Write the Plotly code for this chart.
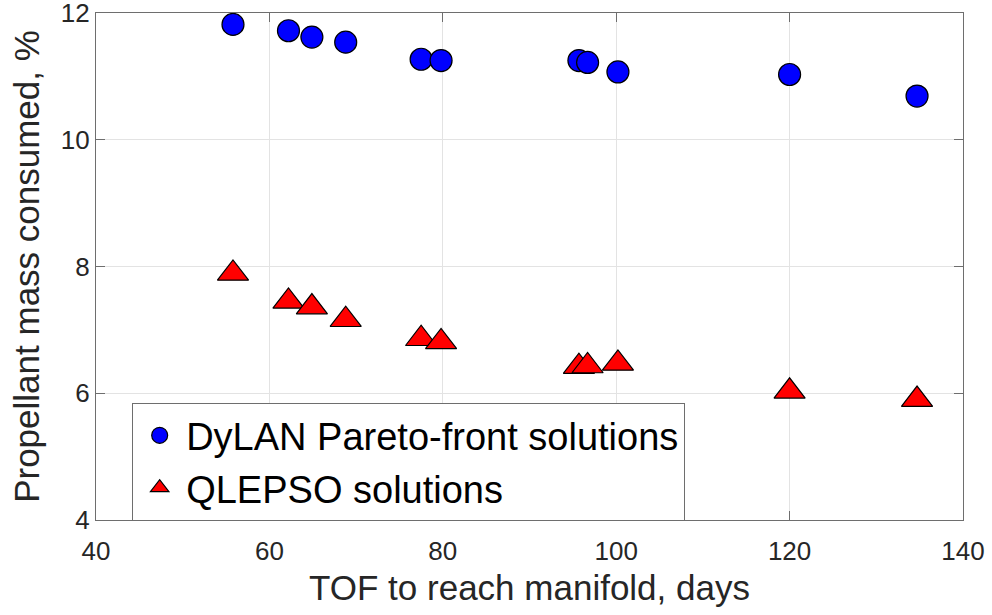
import plotly.graph_objects as go

tof_days = [55.8, 62.2, 64.9, 68.8, 77.5, 79.8, 95.7, 96.7, 100.2, 120.0, 134.7]
dylan_pct = [11.82, 11.72, 11.62, 11.54, 11.27, 11.25, 11.25, 11.22, 11.07, 11.03, 10.69]
qlepso_pct = [7.89, 7.45, 7.36, 7.16, 6.86, 6.81, 6.42, 6.43, 6.47, 6.03, 5.90]

x_ticks = [40, 60, 80, 100, 120, 140]
y_ticks = [4, 6, 8, 10, 12]

FONT = "Liberation Sans, Arial, sans-serif"

fig = go.Figure()
fig.add_trace(go.Scatter(
    x=tof_days, y=dylan_pct, mode="markers", name="DyLAN Pareto-front solutions",
    marker=dict(symbol="circle", size=22, color="#0000ff",
                line=dict(color="black", width=1.2)),
))
fig.add_trace(go.Scatter(
    x=tof_days, y=qlepso_pct, mode="markers", name="QLEPSO solutions",
    marker=dict(symbol="triangle-up", size=27, color="#ff0000",
                line=dict(color="black", width=1.2)),
))

axis_common = dict(
    showline=True, linecolor="#6e6e6e", linewidth=1.2, mirror="allticks",
    ticks="inside", ticklen=9, tickcolor="#6e6e6e", tickwidth=1.2,
    showgrid=True, gridcolor="#e3e3e3", gridwidth=1, zeroline=False,
    tickfont=dict(family=FONT, size=26, color="#262626"),
    title_font=dict(family=FONT, size=35, color="#262626"),
    ticklabeloverflow="allow", automargin=False,
)

fig.update_xaxes(range=[39.999, 140.001], tickvals=x_ticks, ticktext=[str(v) for v in x_ticks],
                 ticklabelstandoff=8,
                 title_text="TOF to reach manifold, days", title_standoff=10, **axis_common)
fig.update_yaxes(range=[3.9999, 12.0001], tickvals=y_ticks, ticktext=[str(v) for v in y_ticks],
                 title_text="Propellant mass consumed, %", title_standoff=10, **axis_common)

fig.update_layout(
    width=992, height=615,
    margin=dict(l=96, r=29, t=13, b=95),
    plot_bgcolor="white", paper_bgcolor="white",
    showlegend=True,
    legend=dict(
        x=0.0415, y=0.231, xanchor="left", yanchor="top",
        bgcolor="white", bordercolor="#6e6e6e", borderwidth=1.2,
        font=dict(family=FONT, size=38, color="black"),
        tracegroupgap=0, itemsizing="trace", itemwidth=43,
    ),
)

fig.write_html("out.html")
